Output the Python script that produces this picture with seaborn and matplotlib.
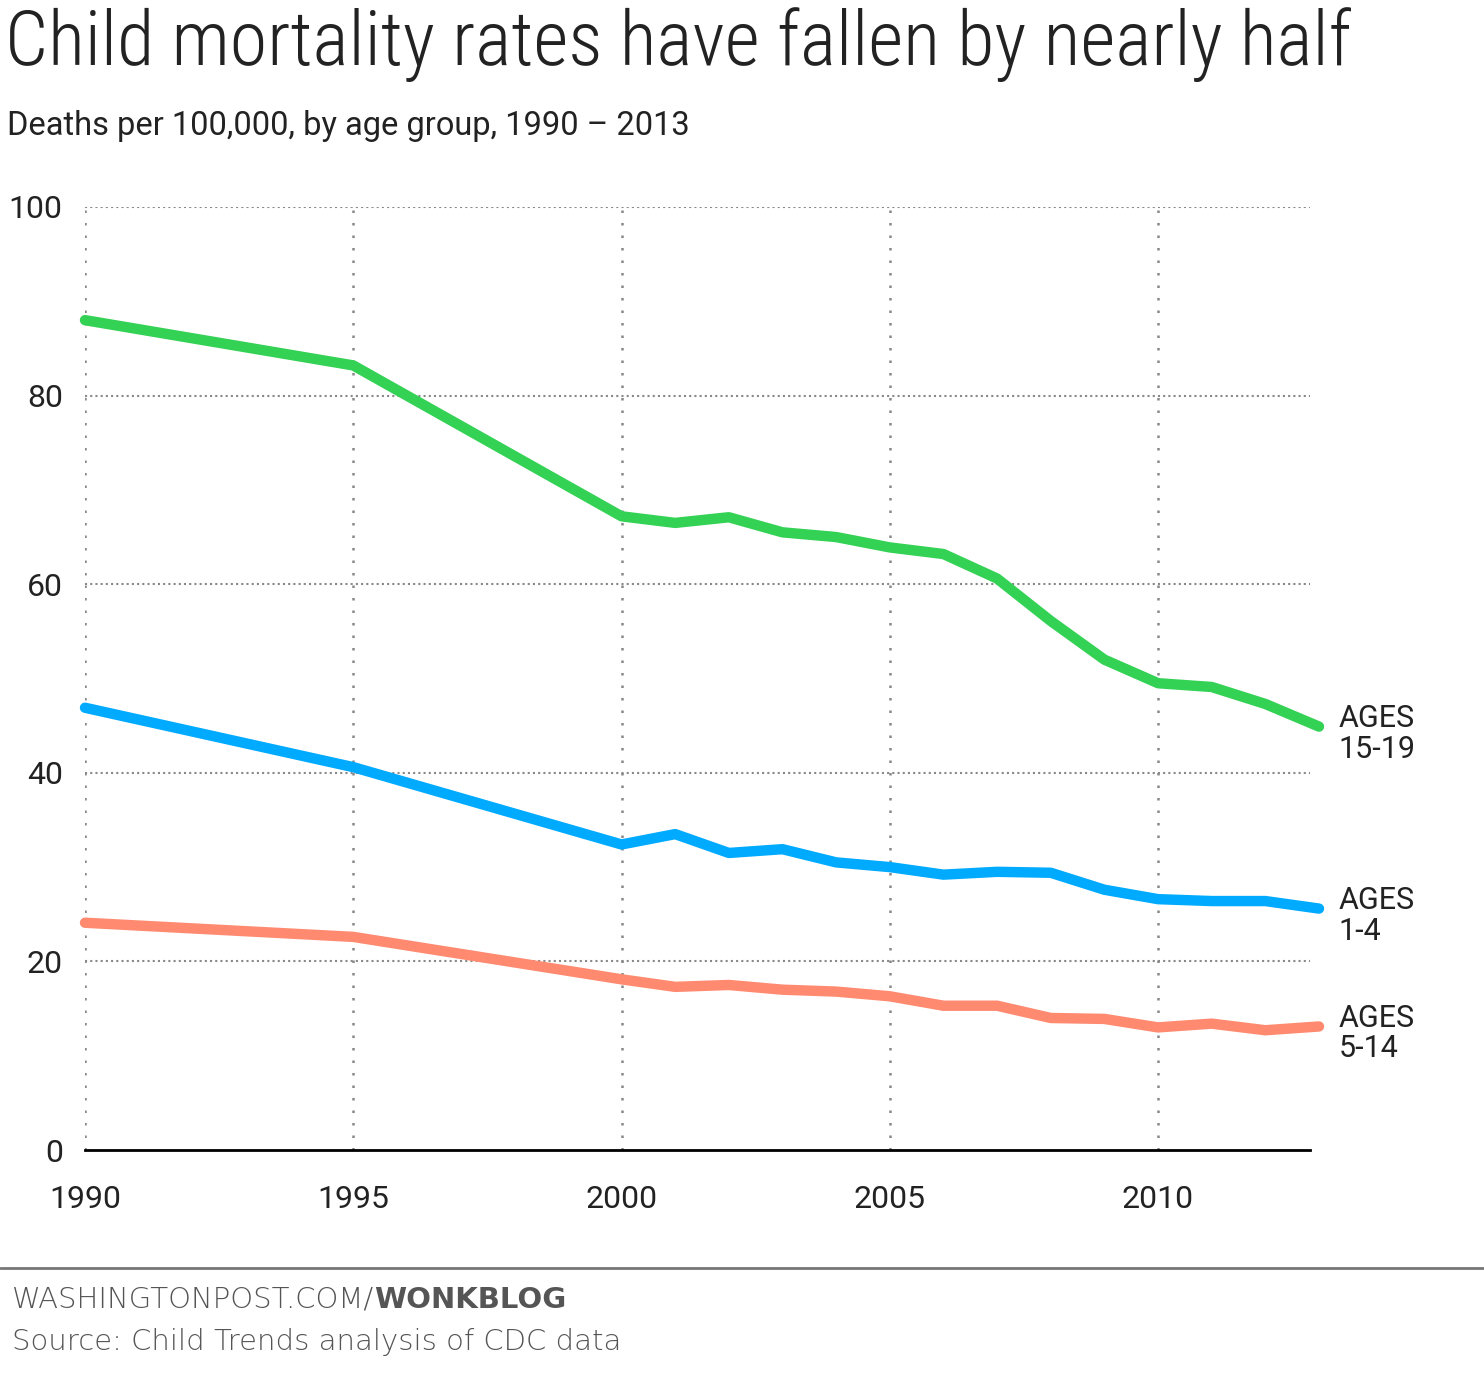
import matplotlib
matplotlib.use("Agg")
import matplotlib.pyplot as plt
from matplotlib import font_manager
import seaborn as sns
import pandas as pd

years = [1990, 1995, 2000, 2001, 2002, 2003, 2004, 2005, 2006, 2007, 2008, 2009, 2010, 2011, 2012, 2013]
ages_15_19 = [88.0, 83.2, 67.2, 66.5, 67.1, 65.5, 65.0, 63.9, 63.2, 60.6, 56.1, 52.0, 49.5, 49.1, 47.3, 44.9]
ages_1_4 = [46.9, 40.6, 32.4, 33.5, 31.5, 31.9, 30.5, 30.0, 29.2, 29.5, 29.4, 27.6, 26.6, 26.4, 26.4, 25.6]
ages_5_14 = [24.1, 22.6, 18.1, 17.3, 17.5, 17.0, 16.8, 16.3, 15.3, 15.3, 14.0, 13.9, 13.0, 13.4, 12.7, 13.1]
series_names = ["AGES\n15-19", "AGES\n1-4", "AGES\n5-14"]
colors = ["#33d154", "#00aaff", "#ff8a70"]
x_ticks = [1990, 1995, 2000, 2005, 2010]
y_ticks = [0, 20, 40, 60, 80, 100]

title = "Child mortality rates have fallen by nearly half"
subtitle = "Deaths per 100,000, by age group, 1990 \u2013 2013"

sns.set_theme(style="white")
available = {f.name for f in font_manager.fontManager.ttflist}
cond = "Roboto Condensed" if "Roboto Condensed" in available else "Roboto"
base = "Roboto" if "Roboto" in available else "DejaVu Sans"
plt.rcParams["font.family"] = [base, "DejaVu Sans"]

rows = []
for name, vals in zip(series_names, [ages_15_19, ages_1_4, ages_5_14]):
    for y, v in zip(years, vals):
        rows.append({"year": y, "rate": v, "group": name})
df = pd.DataFrame(rows)

fig = plt.figure(figsize=(14.84, 13.8), dpi=100)
ax = fig.add_axes([85 / 1484, 1 - 1150 / 1380, (1319 - 85) / 1484, (1150 - 207) / 1380])

sns.lineplot(data=df, x="year", y="rate", hue="group", palette=dict(zip(series_names, colors)),
             hue_order=series_names, linewidth=7.5, legend=False, ax=ax,
             solid_capstyle="round", solid_joinstyle="round", clip_on=False, zorder=3)

ax.set_xlim(1990, 2013)
ax.set_ylim(0, 100)
ax.set_xticks(x_ticks)
ax.set_yticks(y_ticks)
ax.set_xlabel("")
ax.set_ylabel("")
for s in ["top", "right", "left"]:
    ax.spines[s].set_visible(False)
ax.spines["bottom"].set_color("black")
ax.spines["bottom"].set_linewidth(2)
ax.spines["bottom"].set_zorder(4)
ax.spines["bottom"].set_bounds(1990, 2012.83)

for yt in y_ticks[1:]:
    ax.axhline(yt, color="#888888", linestyle=(0, (1, 1.5)), linewidth=1.5, zorder=1,
               xmax=(1310 - 85) / (1319 - 85))
for xt in x_ticks:
    ax.axvline(xt, color="#888888", linestyle=(0, (1, 4)), linewidth=1.8, zorder=1)

ax.tick_params(axis="both", length=0, labelsize=23, colors="#222222")
ax.tick_params(axis="y", pad=16)
ax.tick_params(axis="x", pad=25)

for name, vals in zip(series_names, [ages_15_19, ages_1_4, ages_5_14]):
    ax.annotate(name, xy=(years[-1], vals[-1]), xytext=(14, 16), textcoords="offset points",
                ha="left", va="top", fontsize=22, color="#222222",
                linespacing=1.05, annotation_clip=False)

fig.text(5 / 1484, 1 - 45 / 1380, title, fontsize=55, fontweight="light", color="#222222",
         va="center", ha="left", family=[cond, "DejaVu Sans"])
fig.text(7 / 1484, 1 - 126 / 1380, subtitle, fontsize=23.5, color="#222222", va="center", ha="left")

line = plt.Line2D([0, 1], [1 - 1268 / 1380] * 2, transform=fig.transFigure, color="#777777", linewidth=2)
fig.add_artist(line)
t1 = fig.text(12 / 1484, 1 - 1300 / 1380, "WASHINGTONPOST.COM/", fontsize=21, color="#555555",
              va="center", ha="left", family=["DejaVu Sans"], fontweight="light")
fig.canvas.draw()
bb = t1.get_window_extent()
fig.text(bb.x1 / 1484, 1 - 1300 / 1380, "WONKBLOG", fontsize=21, color="#555555", fontweight="bold",
         va="center", ha="left", family=["DejaVu Sans"])
fig.text(12 / 1484, 1 - 1342 / 1380, "Source: Child Trends analysis of CDC data", fontsize=21,
         color="#555555", va="center", ha="left", family=["DejaVu Sans"], fontweight="light")

fig.savefig("out.png", dpi=100, facecolor="white")
